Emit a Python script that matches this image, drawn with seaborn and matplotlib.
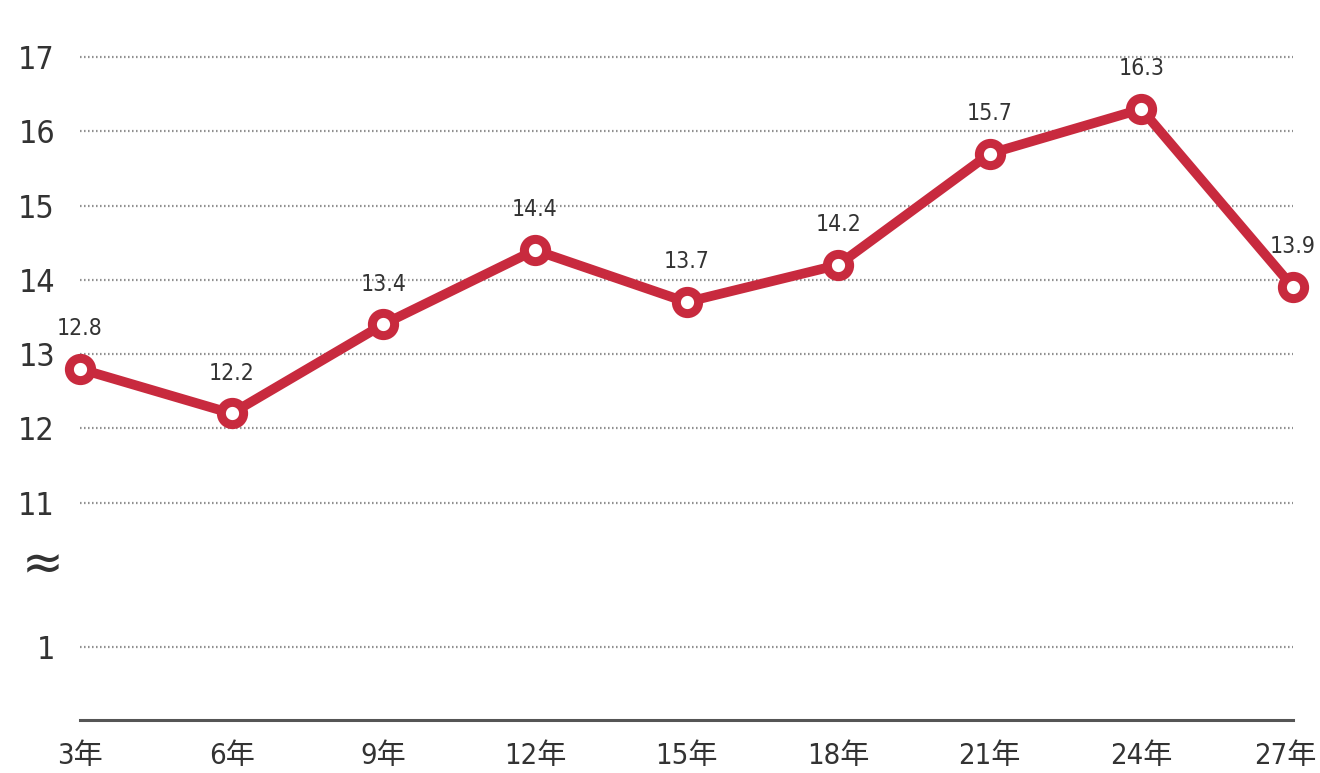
import matplotlib
matplotlib.use("Agg")
import matplotlib.pyplot as plt
import matplotlib.transforms as mtransforms
import seaborn as sns
import numpy as np
import pandas as pd

years = ["3年", "6年", "9年", "12年", "15年", "18年", "21年", "24年", "27年"]
values = [12.8, 12.2, 13.4, 14.4, 13.7, 14.2, 15.7, 16.3, 13.9]
ytick_labels = ["1", "11", "12", "13", "14", "15", "16", "17"]

sns.set_theme(style="white")
plt.rcParams['font.family'] = ['DejaVu Sans', 'Noto Sans CJK JP']

# broken axis: values >= 11 plotted as-is, "1" grid placed just below the break
POS_ONE = 9.05
Y_BOTTOM = 8.07
Y_TOP = 17.77
ytick_pos = [POS_ONE] + list(range(11, 18))

df = pd.DataFrame({"x": np.arange(len(years)), "y": values})

fig = plt.figure(figsize=(13.2, 7.73), dpi=100)
ax = fig.add_axes([80 / 1320, 53 / 773, (1293 - 80) / 1320, 720 / 773])

red = "#c82a3e"
for p in ytick_pos:
    ax.axhline(p, color="#909090", lw=1.6, ls=(0, (0.7, 1.1)), zorder=1)

sns.lineplot(data=df, x="x", y="y", ax=ax, color=red, lw=7, marker="o",
             markersize=16, markerfacecolor="white", markeredgecolor=red,
             markeredgewidth=6.5, clip_on=False, zorder=3)

for xi, v in zip(df["x"], df["y"]):
    ax.annotate(f"{v:.1f}", (xi, v), xytext=(0, 29), textcoords="offset points",
                ha="center", va="center", fontsize=16.5, color="#333333",
                fontstretch="condensed")

ax.set_xlim(0, len(years) - 1)
ax.set_ylim(Y_BOTTOM, Y_TOP)
ax.set_yticks(ytick_pos)
ax.set_yticklabels(ytick_labels)
ax.set_xticks(df["x"])
ax.set_xticklabels(years)
ax.tick_params(axis="y", length=0, pad=18, labelsize=23, labelcolor="#333333")
ax.tick_params(axis="x", length=0, pad=16, labelsize=21, labelcolor="#333333")
for lab in ax.get_xticklabels() + ax.get_yticklabels():
    lab.set_fontstretch("condensed")
xl = ax.get_xticklabels()
xl[-1].set_horizontalalignment("right")
xl[-1].set_transform(xl[-1].get_transform() +
                     mtransforms.ScaledTranslation(24 / 100, 0, fig.dpi_scale_trans))
ax.set_xlabel("")
ax.set_ylabel("")
for s in ["top", "left", "right"]:
    ax.spines[s].set_visible(False)
ax.spines["bottom"].set_color("#555555")
ax.spines["bottom"].set_linewidth(2.2)

ax.text(-0.031, 10.15, "≈", transform=ax.get_yaxis_transform(), ha="center",
        va="center", fontsize=36, color="#333333")

fig.savefig("out.png", dpi=100)
